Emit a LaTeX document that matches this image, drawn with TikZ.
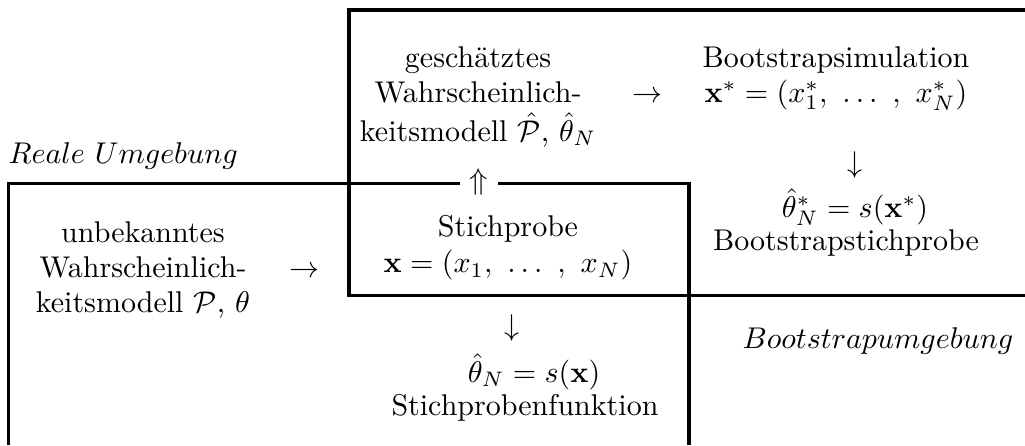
\documentclass[tikz,border=0pt]{standalone}
\usepackage{amsmath}
\newcommand\mlines[1]{\begin{tabular}[t]{@{}c@{}}#1\end{tabular}}
\begin{document}
\begin{tikzpicture}[x=0.33333pt,y=-0.33333pt,
  txt/.style={inner sep=0pt, anchor=base, font=\fontsize{10}{11.7}\selectfont},
  sym/.style={inner sep=0pt, anchor=center, font=\fontsize{10}{11.7}\selectfont},
  realframe/.style={line width=1.1pt},
  bootframe/.style={line width=1.3pt}]
\useasboundingbox (0,0) rectangle (1025,445);
% Bootstrap environment frame
\coordinate (bTR) at (1025,10);
\coordinate (bTL) at (349,10);
\coordinate (bBL) at (349,295.5);
\coordinate (bBR) at (1025,295.5);
\draw[bootframe] (bTR) -- (bTL) -- (bBL) -- (bBR);
% Real environment frame
\node[sym, inner xsep=3pt] (up) at (479,182) {$\Uparrow$};
\coordinate (rBL) at (8.3,445);
\coordinate (rTL) at (8.3,183.5);
\coordinate (rTR) at (689,183.5);
\coordinate (rBR) at (689,445);
\draw[realframe] (rBL) -- (rTL) -- (rTL -| up.west);
\draw[realframe] (rTR -| up.east) -- (rTR) -- (rBR);
% Labels of the environments
\node[txt, anchor=base west] (real) at (8,163) {$Reale\ Umgebung$};
\node[txt, anchor=base east] (bootenv) at (1014,348) {$Bootstrapumgebung$};
% Real world
\node[txt] (unk) at (143,242) {\mlines{unbekanntes\\Wahrscheinlich-\\keitsmodell $\mathcal{P}$, $\theta$}};
\node[txt] (a1) at (305,277) {$\rightarrow$};
\node[txt] (sample) at (508,236) {\mlines{Stichprobe\\[0.6pt]$\mathbf{x}=(x_1,\ \ldots\ ,\ x_N)$}};
\node[sym] (dn1) at (512,328) {$\downarrow$};
\node[txt] (stat) at (525,382) {\mlines{\hspace*{6pt}$\hat{\theta}_N=s(\mathbf{x})$\\[-0.7pt]Stichprobenfunktion}};
% Bootstrap world
\node[txt] (est) at (478,67) {\mlines{gesch\"atztes\\Wahrscheinlich-\\keitsmodell $\hat{\mathcal{P}}$, $\hat{\theta}_N$}};
\node[txt] (a2) at (648,102) {$\rightarrow$};
\node[txt] (bsim) at (836,67) {\mlines{Bootstrapsimulation\\$\mathbf{x}^*=(x_1^*,\ \ldots\ ,\ x_N^*)$}};
\node[sym] (dn2) at (855,165) {$\downarrow$};
\node[txt] (bstat) at (846,217) {\mlines{\hspace*{6pt}$\hat{\theta}_N^*=s(\mathbf{x}^*)$\\[-0.7pt]Bootstrapstichprobe}};
\end{tikzpicture}
\end{document}
